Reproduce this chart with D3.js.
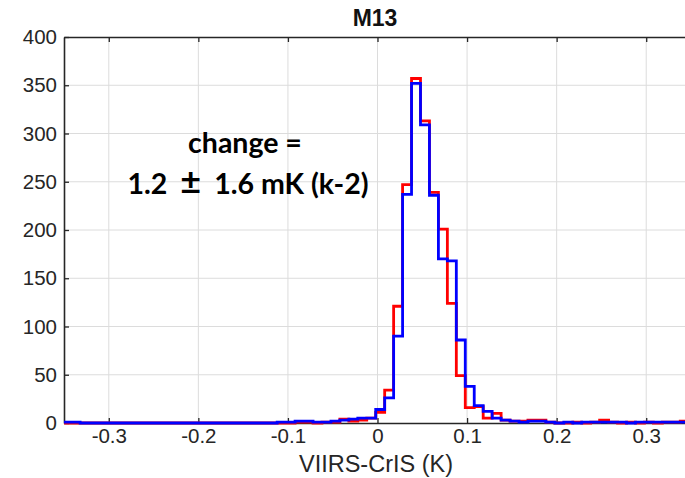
<!DOCTYPE html>
<html>
<head>
<meta charset="utf-8">
<script src="https://cdn.jsdelivr.net/npm/d3@7"></script>
<style>
  body { margin: 0; background: #fff; }
  svg { display: block; }
</style>
</head>
<body>
<div class="chart"></div>
<script>
// histogram bins: lower edge of bin i = binStart + i * binWidth
const binStart = -0.352
const binWidth = 0.01

const redCounts = [
  0, 0, 0, 0, 0, 0, 0, 0, 0, 0,
  0, 0, 0, 0, 0, 0, 0, 0, 0, 0,
  0, 0, 0, 0, 0, 0, 1, 1, 0, 1,
  1, 4, 2, 3, 5, 11, 34, 121, 247, 357,
  313, 239, 201, 124, 49, 16, 17, 5, 10, 3,
  2, 2, 3, 3, 1, 0, 0, 1, 0, 1,
  3, 1, 0, 1, 0, 1, 0, 1, 1, 2,
  1
]
const blueCounts = [
  1, 1, 0, 0, 0, 0, 0, 0, 0, 0,
  0, 0, 0, 0, 0, 0, 0, 0, 0, 0,
  0, 0, 0, 0, 1, 1, 2, 2, 1, 1,
  2, 3, 4, 5, 5, 14, 26, 90, 237, 352,
  309, 236, 170, 168, 86, 38, 18, 12, 5, 3,
  2, 1, 2, 2, 1, 0, 1, 0, 1, 1,
  1, 1, 1, 0, 1, 1, 1, 1, 1, 1,
  1
]

const xTicks = [-0.3, -0.2, -0.1, 0, 0.1, 0.2, 0.3]
const yTicks = [0, 50, 100, 150, 200, 250, 300, 350, 400]
const title = 'M13'
const xLabel = 'VIIRS-CrIS (K)'
const noteTop = 'change ='
const noteBottom = ['1.2', '\u00b1', '1.6 mK (k-2)']

const width = 685
const height = 478
const m = { left: 64, right: 691, top: 37, bottom: 423 }
const font = '"Liberation Sans", Arial, Helvetica, sans-serif'
const noteFont = 'Lato, "Open Sans", sans-serif'

const x = d3.scaleLinear().domain([-0.35, 0.35]).range([m.left, m.right])
const y = d3.scaleLinear().domain([0, 400]).range([m.bottom, m.top])

const svg = d3.select('.chart').append('svg')
  .attr('width', width)
  .attr('height', height)
  .attr('viewBox', [0, 0, width, height])

svg.append('defs').append('clipPath')
  .attr('id', 'plot')
  .append('rect')
    .attr('x', m.left)
    .attr('y', m.top)
    .attr('width', m.right - m.left)
    .attr('height', m.bottom - m.top + 3)

// grid
svg.append('g')
  .attr('stroke', '#dcdcdc')
  .attr('stroke-width', 1)
  .selectAll('line')
  .data(xTicks)
  .join('line')
    .attr('x1', d => x(d)).attr('x2', d => x(d))
    .attr('y1', m.top).attr('y2', m.bottom)

svg.append('g')
  .attr('stroke', '#dcdcdc')
  .attr('stroke-width', 1)
  .selectAll('line')
  .data(yTicks.slice(1, -1))
  .join('line')
    .attr('x1', m.left).attr('x2', m.right)
    .attr('y1', d => y(d)).attr('y2', d => y(d))

// axes
const fmt = d => String(+d.toFixed(1))

function styleAxis (g) {
  g.select('.domain').attr('stroke', '#262626').attr('stroke-width', 1.6)
  g.selectAll('.tick line').attr('stroke', '#262626').attr('stroke-width', 1.3)
  g.selectAll('.tick text')
    .attr('fill', '#262626')
    .attr('font-family', font)
    .attr('font-size', 20.5)
}

svg.append('g')
  .attr('transform', `translate(0,${m.bottom})`)
  .call(d3.axisBottom(x).tickValues(xTicks).tickFormat(fmt)
    .tickSizeInner(-5).tickSizeOuter(0).tickPadding(5))
  .call(styleAxis)

svg.append('g')
  .attr('transform', `translate(0,${m.top})`)
  .call(d3.axisTop(x).tickValues(xTicks).tickFormat('')
    .tickSizeInner(-5).tickSizeOuter(0))
  .call(styleAxis)

svg.append('g')
  .attr('transform', `translate(${m.left},0)`)
  .call(d3.axisLeft(y).tickValues(yTicks).tickFormat(d3.format('d'))
    .tickSizeInner(-5).tickSizeOuter(0).tickPadding(7))
  .call(styleAxis)

// stairs
function stairs (counts) {
  const pts = counts.map((c, i) => [binStart + i * binWidth, c])
  pts.push([binStart + counts.length * binWidth, counts[counts.length - 1]])
  return pts
}

const line = d3.line()
  .x(d => x(d[0]))
  .y(d => y(d[1]))
  .curve(d3.curveStepAfter)

const hist = svg.append('g').attr('clip-path', 'url(#plot)')

hist.append('path')
  .attr('d', line(stairs(redCounts)))
  .attr('fill', 'none')
  .attr('stroke', '#ff0000')
  .attr('stroke-width', 2.8)

hist.append('path')
  .attr('d', line(stairs(blueCounts)))
  .attr('fill', 'none')
  .attr('stroke', '#0000ff')
  .attr('stroke-width', 2.8)

// labels
svg.append('text')
  .attr('x', 375)
  .attr('y', 26)
  .attr('text-anchor', 'middle')
  .attr('font-family', font)
  .attr('font-weight', 'bold')
  .attr('font-size', 23)
  .attr('fill', '#111')
  .text(title)

svg.append('text')
  .attr('x', 376)
  .attr('y', 472)
  .attr('text-anchor', 'middle')
  .attr('font-family', font)
  .attr('font-size', 23.5)
  .attr('fill', '#262626')
  .text(xLabel)

svg.append('text')
  .attr('x', 245)
  .attr('y', 153)
  .attr('text-anchor', 'middle')
  .attr('font-family', noteFont)
  .attr('font-weight', 'bold')
  .attr('font-size', 28.5)
  .text(noteTop)

const nb = svg.append('text')
  .attr('x', 248)
  .attr('y', 194)
  .attr('text-anchor', 'middle')
  .attr('font-family', noteFont)
  .attr('font-weight', 'bold')
  .attr('font-size', 28.5)

nb.append('tspan').text(noteBottom[0])
nb.append('tspan')
  .attr('dx', 13)
  .attr('font-size', 36)
  .text(noteBottom[1])
nb.append('tspan')
  .attr('dx', 13)
  .text(noteBottom[2])
</script>
</body>
</html>
